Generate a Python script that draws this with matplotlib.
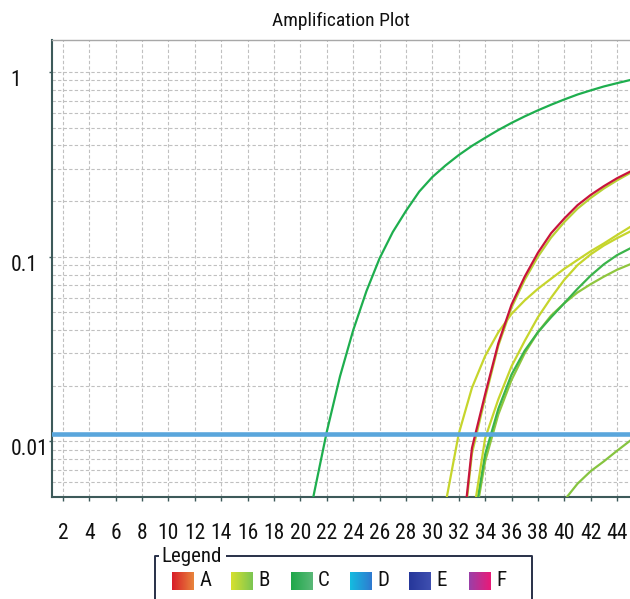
import numpy as np
import matplotlib
matplotlib.use("Agg")
import matplotlib.pyplot as plt
import matplotlib.transforms as mtransforms
from matplotlib import font_manager as fm
from matplotlib.ticker import FixedLocator, LogLocator, NullFormatter
from matplotlib.colors import to_rgb

# ---------------- font selection (narrow sans preferred) ----------------
_entries = fm.fontManager.ttflist
_names = {f.name for f in _entries}
_fs_scale = 1.0
if "Liberation Sans Narrow" in _names:
    plt.rcParams['font.family'] = ['Liberation Sans Narrow', 'DejaVu Sans']
elif "Roboto Condensed" in _names:
    plt.rcParams['font.family'] = ['Roboto Condensed', 'DejaVu Sans']
elif any(f.name == "DejaVu Sans" and "condensed" in str(f.stretch) for f in _entries):
    plt.rcParams['font.family'] = ['DejaVu Sans']
    plt.rcParams['font.stretch'] = 'condensed'
    _fs_scale = 0.93
else:
    plt.rcParams['font.family'] = ['Liberation Sans', 'DejaVu Sans']
    _fs_scale = 0.88

# ---------------- data ----------------
title = "Amplification Plot"
threshold = 0.0109

# sample C (early, strong green)
c1_cycles = list(range(20, 46))
c1_values = [0.0022, 0.0051, 0.0113, 0.0225, 0.040, 0.065, 0.098, 0.136,
             0.177, 0.225, 0.27, 0.312, 0.355, 0.398, 0.44, 0.485, 0.53,
             0.575, 0.62, 0.665, 0.71, 0.755, 0.795, 0.835, 0.87, 0.905]

# sample A (red)
a_cycles = list(range(32, 46))
a_values = [0.002, 0.0092, 0.018, 0.034, 0.055, 0.078, 0.105, 0.134,
            0.161, 0.19, 0.216, 0.241, 0.266, 0.289]

# B replicate hugging the red curve
b2_cycles = list(range(32, 46))
b2_values = [0.0019, 0.0086, 0.0172, 0.033, 0.053, 0.075, 0.1, 0.127,
             0.154, 0.182, 0.208, 0.234, 0.259, 0.284]

# B early replicate
b1_cycles = list(range(31, 46))
b1_values = [0.0046, 0.011, 0.0195, 0.029, 0.039, 0.049, 0.058, 0.067,
             0.076, 0.086, 0.096, 0.107, 0.118, 0.131, 0.145]

# B later replicate
b3_cycles = list(range(33, 46))
b3_values = [0.0036, 0.0104, 0.0169, 0.0255, 0.035, 0.047, 0.06, 0.075,
             0.09, 0.103, 0.115, 0.126, 0.137]

# C later replicates
c2_cycles = list(range(33, 46))
c2_values = [0.0032, 0.0085, 0.015, 0.023, 0.031, 0.039, 0.047, 0.056,
             0.067, 0.079, 0.091, 0.102, 0.111]
c3_cycles = list(range(33, 46))
c3_values = [0.003, 0.0078, 0.014, 0.0215, 0.030, 0.039, 0.048, 0.056,
             0.064, 0.071, 0.078, 0.085, 0.091]

# very late curve
l_cycles = list(range(40, 46))
l_values = [0.0048, 0.0059, 0.0069, 0.0078, 0.0089, 0.0101]

x_ticks = list(range(2, 46, 2))
y_ticks = [0.01, 0.1, 1]
y_ticklabels = ["0.01", "0.1", "1"]

legend_labels = ["A", "B", "C", "D", "E", "F"]
legend_colors = [("#d81e28", "#e8843c"), ("#d6e02e", "#7cc652"),
                 ("#1fa84a", "#5ab878"), ("#14bce0", "#2f7ad0"),
                 ("#26379a", "#3f4fb0"), ("#9a40a8", "#ea1a78")]

# ---------------- figure ----------------
W, H = 630, 599
fig = plt.figure(figsize=(W / 100, H / 100), dpi=100)
ax = fig.add_axes([52 / W, 1 - 497 / H, 1 - 52 / W, (497 - 40) / H])

lw = 1.6
col_c = "#1eae4e"
col_c2 = "#3bb44a"
col_c3 = "#8fc63e"
col_b = "#c6d52c"
col_a = "#c8143c"

ax.plot(c1_cycles, c1_values, color=col_c, lw=lw, zorder=3)
ax.plot(c3_cycles, c3_values, color=col_c3, lw=lw, zorder=3)
ax.plot(c2_cycles, c2_values, color=col_c2, lw=lw, zorder=3)
ax.plot(l_cycles, l_values, color="#86c440", lw=lw, zorder=3)
ax.plot(b3_cycles, b3_values, color=col_b, lw=lw, zorder=3)
ax.plot(b1_cycles, b1_values, color=col_b, lw=lw, zorder=3)
ax.plot(b2_cycles, b2_values, color="#b8d234", lw=lw, zorder=3)
ax.plot(a_cycles, a_values, color=col_a, lw=lw, zorder=4)

ax.axhline(threshold, color="#5aa6dc", lw=3.3, zorder=5)

ax.set_yscale("log")
ax.set_xlim(1.17, 44.98)
ax.set_ylim(0.005, 1.49)

ax.xaxis.set_major_locator(FixedLocator(x_ticks))
ax.set_xticklabels([str(t) for t in x_ticks])
ax.yaxis.set_major_locator(FixedLocator(y_ticks))
ax.set_yticklabels(y_ticklabels)
ax.yaxis.set_minor_locator(LogLocator(base=10, subs=np.arange(2, 10)))
ax.yaxis.set_minor_formatter(NullFormatter())

grid_kw = dict(color="#c0c0c0", lw=0.8, linestyle=(0, (3, 2)))
ax.grid(True, which="major", axis="x", **grid_kw)
ax.grid(True, which="both", axis="y", **grid_kw)
ax.set_axisbelow(True)

spine_col = "#3d5a5a"
ax.spines["left"].set_color(spine_col)
ax.spines["left"].set_linewidth(1.5)
ax.spines["bottom"].set_color(spine_col)
ax.spines["bottom"].set_linewidth(1.5)
ax.spines["top"].set_color("#a8a8a8")
ax.spines["top"].set_linewidth(1.0)
ax.spines["right"].set_visible(False)

fs = 15.5 * _fs_scale
ax.tick_params(axis="x", which="major", length=3, width=1, color=spine_col,
               pad=16, labelsize=fs, labelcolor="#111111")
ax.tick_params(axis="y", which="major", length=2.5, width=1, color=spine_col,
               pad=27.5, labelsize=fs, labelcolor="#111111")
ax.tick_params(axis="y", which="minor", length=0)

offset = mtransforms.ScaledTranslation(0, -6 / 100, fig.dpi_scale_trans)
for lab in ax.get_yticklabels():
    lab.set_horizontalalignment("left")
    lab.set_transform(lab.get_transform() + offset)

fig.text(341 / W, 1 - 21 / H, title, ha="center", va="center",
         fontsize=14 * _fs_scale, color="#111111")

# ---------------- legend (group box) ----------------
ov = fig.add_axes([0, 0, 1, 1], zorder=10)
ov.set_autoscale_on(False)
ov.set_xlim(0, W)
ov.set_ylim(H, 0)
ov.axis("off")
ov.patch.set_alpha(0)

box_col = "#283048"
leg_txt = ov.text(161, 557, "Legend", ha="left", va="center",
                  fontsize=15 * _fs_scale, color="#111111")
fig.canvas.draw()
bb = leg_txt.get_window_extent().transformed(ov.transData.inverted())
txt_right = max(bb.x0, bb.x1) + 5
ov.plot([155, 155, 159], [H + 5, 556, 556], color=box_col, lw=1.4,
        solid_capstyle="butt")
ov.plot([txt_right, 532, 532], [556, 556, H + 5], color=box_col, lw=1.4,
        solid_capstyle="butt")

for i, (lab, (c0, c1)) in enumerate(zip(legend_labels, legend_colors)):
    x0 = 172 + i * 59.3
    x1 = x0 + 21.5
    y0, y1 = 572, 590
    t = np.linspace(0, 1, 40)
    grad = (np.outer(1 - t, to_rgb(c0)) + np.outer(t, to_rgb(c1)))[None, :, :]
    grad = np.repeat(grad, 4, axis=0)
    ov.imshow(grad, extent=[x0, x1, y1, y0], aspect="auto",
              interpolation="bilinear", zorder=2)
    ov.text(x1 + 6, 581, lab, ha="left", va="center", fontsize=15 * _fs_scale,
            color="#111111")

ov.set_xlim(0, W)
ov.set_ylim(H, 0)

fig.savefig("out.png", dpi=100)
